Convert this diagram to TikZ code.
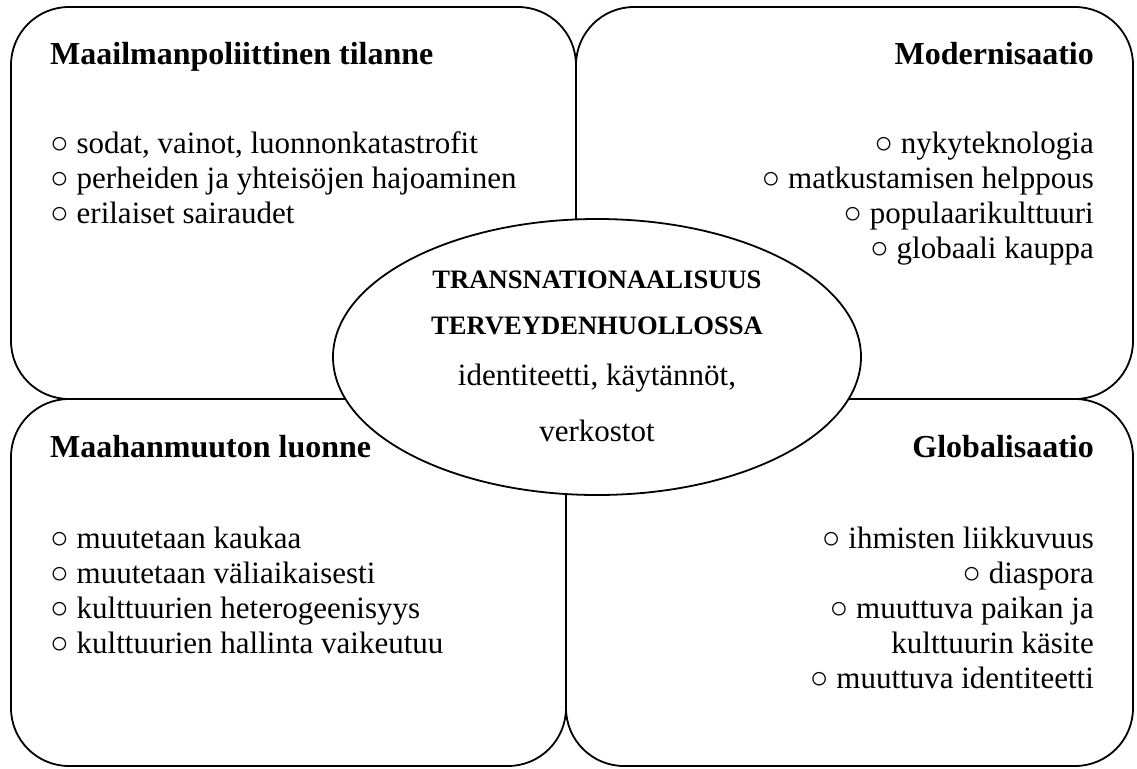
\documentclass[tikz,border=0pt]{standalone}
\usepackage{fontspec}
\setmainfont{Liberation Serif}
\begin{document}
\begin{tikzpicture}[x=1pt,y=-1pt,
  box/.style={draw, line width=1.8pt, rounded corners=58pt},
  oval/.style={draw, line width=1.8pt, fill=white},
  ttl/.style={font=\fontsize{32}{35}\selectfont\bfseries, inner sep=0pt},
  itm/.style={font=\fontsize{31}{35}\selectfont, inner sep=0pt},
  capt/.style={font=\fontsize{26.6}{30}\selectfont\bfseries, inner sep=0pt}]
\useasboundingbox (0,0) rectangle (1137,768);
% four quarter boxes
\draw[box] (11,7) rectangle (576,399);
\draw[box] (576,7) rectangle (1133,399);
\draw[box] (11,399) rectangle (566,766);
\draw[box] (566,399) rectangle (1133,766);
% central ellipse
\coordinate (ec) at (597,357);
\draw[oval] (ec) ellipse [x radius=264, y radius=138];
% centre text
\node[capt, anchor=base] (c1) at (597,288) {TRANSNATIONAALISUUS};
\node[capt, anchor=base] (c2) at (597,334) {TERVEYDENHUOLLOSSA};
\node[itm, anchor=base] (c3) at (597,385) {identiteetti, käytännöt,};
\node[itm, anchor=base] (c4) at (597,441) {verkostot};
% top left
\node[ttl, anchor=base west] (tl0) at (50,65) {Maailmanpoliittinen tilanne};
\node[itm, anchor=base west] (tl1) at (50,153) {○ sodat, vainot, luonnonkatastrofit};
\node[itm, anchor=base west] (tl2) at (50,188) {○ perheiden ja yhteisöjen hajoaminen};
\node[itm, anchor=base west] (tl3) at (50,223) {○ erilaiset sairaudet};
% top right
\node[ttl, anchor=base east] (tr0) at (1094,65) {Modernisaatio};
\node[itm, anchor=base east] (tr1) at (1094,153) {○ nykyteknologia};
\node[itm, anchor=base east] (tr2) at (1094,188) {○ matkustamisen helppous};
\node[itm, anchor=base east] (tr3) at (1094,223) {○ populaarikulttuuri};
\node[itm, anchor=base east] (tr4) at (1094,258) {○ globaali kauppa};
% bottom left
\node[ttl, anchor=base west] (bl0) at (50,457) {Maahanmuuton luonne};
\node[itm, anchor=base west] (bl1) at (50,548) {○ muutetaan kaukaa};
\node[itm, anchor=base west] (bl2) at (50,583) {○ muutetaan väliaikaisesti};
\node[itm, anchor=base west] (bl3) at (50,618) {○ kulttuurien heterogeenisyys};
\node[itm, anchor=base west] (bl4) at (50,653) {○ kulttuurien hallinta vaikeutuu};
% bottom right
\node[ttl, anchor=base east] (br0) at (1094,457) {Globalisaatio};
\node[itm, anchor=base east] (br1) at (1094,548) {○ ihmisten liikkuvuus};
\node[itm, anchor=base east] (br2) at (1094,583) {○ diaspora};
\node[itm, anchor=base east] (br3) at (1094,618) {○ muuttuva paikan ja};
\node[itm, anchor=base east] (br4) at (1094,653) {kulttuurin käsite};
\node[itm, anchor=base east] (br5) at (1094,688) {○ muuttuva identiteetti};
\end{tikzpicture}
\end{document}
